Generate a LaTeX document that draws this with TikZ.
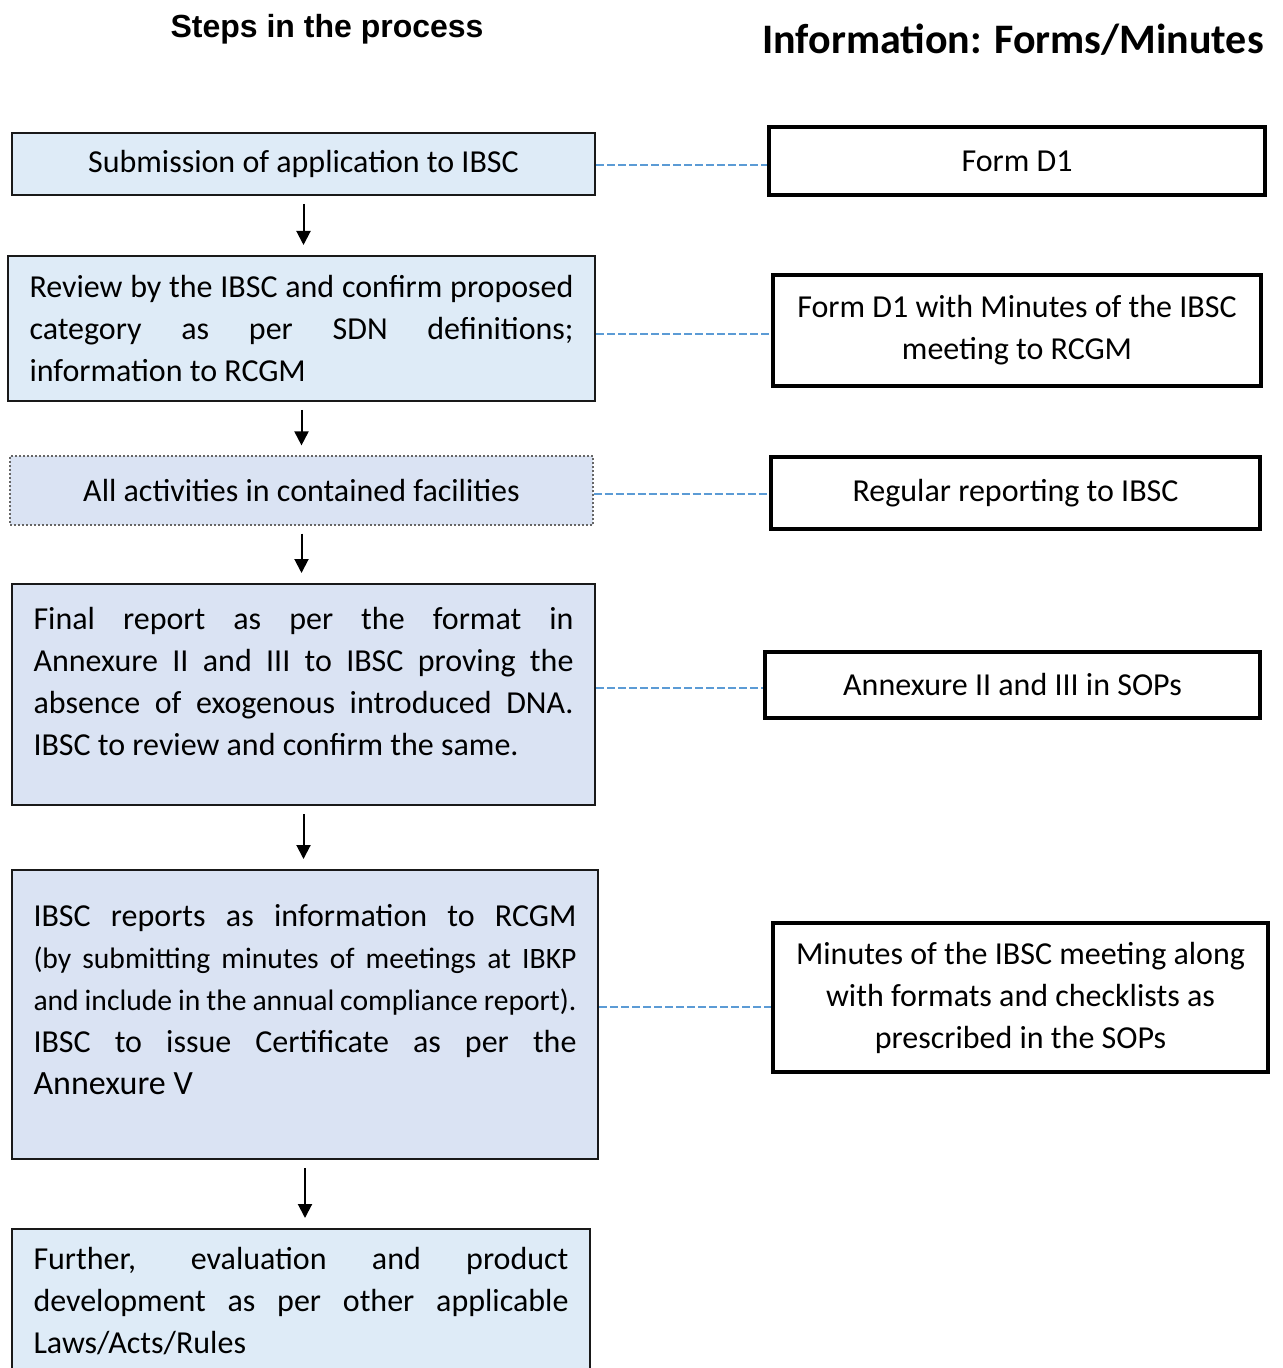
\documentclass[tikz,border=0pt]{standalone}
\usepackage{fontspec}
\setmainfont{Carlito}
\newfontfamily\arialfont{Liberation Sans}
\usepackage{xcolor}
\usetikzlibrary{arrows.meta}
\definecolor{paleblue}{RGB}{222,235,247}
\definecolor{greyblue}{RGB}{218,227,243}
\definecolor{linkblue}{RGB}{91,155,213}
\newcommand{\bodysize}{\fontsize{16}{21}\selectfont}
\tikzstyle{stage} = [draw=black!90, line width=1pt, fill=paleblue, inner xsep=10.75pt, font=\bodysize]
\tikzstyle{info} = [draw, line width=1.8pt, align=center, font=\bodysize]
\tikzstyle{link} = [draw=linkblue, line width=1.2pt, dash pattern=on 4pt off 1.5pt]
\tikzstyle{flow} = [-{Triangle[length=7pt,width=7pt]}, line width=1pt, shorten <=4pt, shorten >=5pt]

\begin{document}
\begin{tikzpicture}[x=0.5pt, y=-0.5pt]
			\useasboundingbox (0,0) rectangle (1282,1368);
			\node (lhead) at (327,29) {\arialfont\bfseries\fontsize{16}{19}\selectfont Steps in the process};
			\node (rhead) at (1013,40) {\bfseries\fontsize{21}{25}\selectfont Information: Forms/Minutes};
			\node[stage, minimum width=291.5pt, minimum height=31pt] (s1) at (303.5,164) {Submission of application to IBSC};
			\node[stage, text width=272pt, align=justify, minimum height=72.5pt] (s2) at (301.5,328.5) {Review by the IBSC and confirm proposed\linebreak category as per SDN definitions;\linebreak information to RCGM};
			\node[stage, fill=greyblue, densely dotted, draw=black!60, line width=0.6pt, minimum width=291.5pt, minimum height=34.5pt] (s3) at (301.5,490.5) {All activities in contained facilities};
			\node[stage, fill=greyblue, anchor=north, text width=270pt, align=justify, inner ysep=11pt, text height=11.5pt, text depth=77pt] (s4) at (303.5,583) {Final report as per the format in\linebreak Annexure II and III to IBSC proving the\linebreak absence of exogenous introduced DNA.\linebreak IBSC to review and confirm the same.};
			\node[stage, fill=greyblue, anchor=north, text width=271.5pt, align=justify, inner ysep=11pt, text height=17pt, text depth=105.5pt] (s5) at (305,869) {IBSC reports as information to RCGM\linebreak {\fontsize{14.8}{21}\selectfont (by submitting minutes of meetings at IBKP\linebreak and include in the annual compliance report).}\linebreak IBSC to issue Certificate as per the\linebreak {\fontsize{17}{21}\selectfont Annexure V}};
			\node[stage, anchor=north, text width=267.5pt, align=justify, inner ysep=11pt, text height=9pt, text depth=60pt] (s6) at (301,1228) {Further, evaluation and product\linebreak development as per other applicable\linebreak Laws/Acts/Rules};
			\node[info, minimum width=248pt, minimum height=34pt] (f1) at (1017,161) {Form D1};
			\node[info, minimum width=244pt, minimum height=55.5pt] (f2) at (1017,330.5) {Form D1 with Minutes of the IBSC\\meeting to RCGM};
			\node[info, minimum width=244.5pt, minimum height=36pt] (f3) at (1015.5,493) {Regular reporting to IBSC};
			\node[info, minimum width=247.5pt, minimum height=33pt] (f4) at (1012.5,685) {Annexure II and III in SOPs};
			\node[info, minimum width=247.5pt, minimum height=74.5pt] (f5) at (1020.5,997.5) {Minutes of the IBSC meeting along\\with formats and checklists as\\prescribed in the SOPs};
			\coordinate (c1) at ([yshift=-2pt]f1.west);
			\coordinate (c2) at ([yshift=-1.75pt]f2.west);
			\coordinate (c3) at ([yshift=-0.5pt]f3.west);
			\coordinate (c4) at ([yshift=-1.5pt]f4.west);
			\coordinate (c5) at ([yshift=-4.75pt]f5.west);
			\draw[flow] (s1.south) -- (s1.south |- s2.north);
			\draw[flow] (s2.south) -- (s2.south |- s3.north);
			\draw[flow] (s3.south) -- (s3.south |- s4.north);
			\draw[flow] (s4.south) -- (s4.south |- s5.north);
			\draw[flow] (s5.south) -- (s5.south |- s6.north);
			\draw[link] (s1.east |- c1) -- (c1);
			\draw[link] (s2.east |- c2) -- (c2);
			\draw[link] (s3.east |- c3) -- (c3);
			\draw[link] (s4.east |- c4) -- (c4);
			\draw[link] (s5.east |- c5) -- (c5);
		\end{tikzpicture}
\end{document}
